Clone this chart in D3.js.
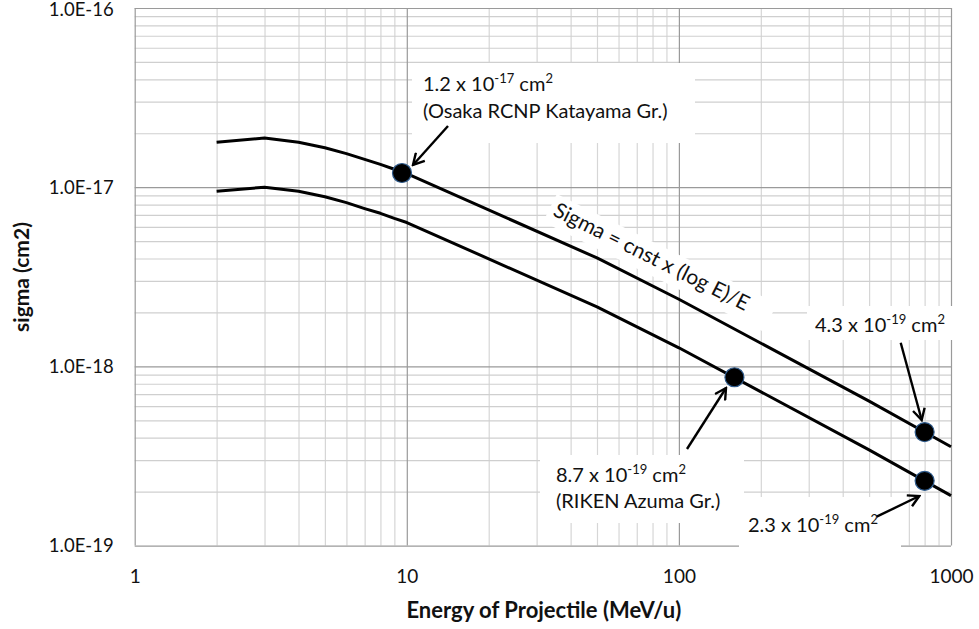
<!DOCTYPE html>
<html>
<head>
<meta charset="utf-8">
<script src="https://cdn.jsdelivr.net/npm/d3@7"></script>
<style>
  html, body { margin: 0; padding: 0; background: #fff; }
  svg { display: block; font-family: Lato, "Open Sans", sans-serif; }
</style>
</head>
<body>
<svg id="chart" width="979" height="629"></svg>
<script>
// Projectile energies (MeV/u) at which the two cross-section curves are sampled
const energies = [2, 3, 4, 5, 6, 7, 8, 9, 10, 50, 100, 500, 1000];
// Upper curve, sigma in cm^2
const sigmaUpper = [1.78e-17, 1.88e-17, 1.78e-17, 1.66e-17, 1.54e-17, 1.43e-17, 1.34e-17,
                    1.26e-17, 1.19e-17, 4.03e-18, 2.37e-18, 6.4e-19, 3.56e-19];
// Lower curve, sigma in cm^2
const sigmaLower = [9.5e-18, 1.0e-17, 9.5e-18, 8.85e-18, 8.2e-18, 7.6e-18, 7.15e-18,
                    6.7e-18, 6.35e-18, 2.15e-18, 1.27e-18, 3.42e-19, 1.9e-19];

// Measured points
const pointEnergy = [9.6, 160, 800, 800];
const pointSigma  = [1.2e-17, 8.7e-19, 4.3e-19, 2.3e-19];

// Axis ticks
const xTickValues = [1, 10, 100, 1000];
const xTickLabels = ["1", "10", "100", "1000"];
const yTickValues = [1e-19, 1e-18, 1e-17, 1e-16];
const yTickLabels = ["1.0E-19", "1.0E-18", "1.0E-17", "1.0E-16"];

(function () {
const svg = d3.select("#chart");
const plotL = 134.7, plotR = 951, plotT = 8, plotB = 545.6;

const x = d3.scaleLog().domain([1, 1000]).range([plotL, plotR]);
const y = d3.scaleLog().domain([1e-19, 1e-16]).range([plotB, plotT]);

// minor / major grid values
const xMinor = [], yMinor = [];
[1, 10, 100].forEach(d => { for (let k = 2; k <= 9; k++) xMinor.push(d * k); });
[1e-19, 1e-18, 1e-17].forEach(d => { for (let k = 2; k <= 9; k++) yMinor.push(d * k); });

const grid = svg.append("g");

grid.append("g")
  .attr("transform", `translate(0,${plotB})`)
  .call(d3.axisBottom(x).tickValues(xMinor).tickSize(-(plotB - plotT)).tickFormat(""))
  .call(g => g.select(".domain").remove())
  .call(g => g.selectAll("line").attr("stroke", "#d6d6d6").attr("stroke-width", 1.2));

grid.append("g")
  .attr("transform", `translate(${plotL},0)`)
  .call(d3.axisLeft(y).tickValues(yMinor).tickSize(-(plotR - plotL)).tickFormat(""))
  .call(g => g.select(".domain").remove())
  .call(g => g.selectAll("line").attr("stroke", "#cfcfcf").attr("stroke-width", 1.2));

grid.append("g")
  .attr("transform", `translate(0,${plotB})`)
  .call(d3.axisBottom(x).tickValues(xTickValues).tickSize(-(plotB - plotT)).tickFormat(""))
  .call(g => g.select(".domain").remove())
  .call(g => g.selectAll("line").attr("stroke", "#9a9a9a").attr("stroke-width", 1.2));

grid.append("g")
  .attr("transform", `translate(${plotL},0)`)
  .call(d3.axisLeft(y).tickValues(yTickValues).tickSize(-(plotR - plotL)).tickFormat(""))
  .call(g => g.select(".domain").remove())
  .call(g => g.selectAll("line").attr("stroke", "#9a9a9a").attr("stroke-width", 1.2));

// tick labels
const yAxis = svg.append("g")
  .attr("transform", `translate(${plotL},0)`)
  .call(d3.axisLeft(y).tickValues(yTickValues).tickSize(0).tickPadding(21)
        .tickFormat((d, i) => yTickLabels[i]));
yAxis.select(".domain").remove();
yAxis.selectAll("text").attr("font-size", 18.5).attr("fill", "#111")
  .attr("font-family", "Lato, sans-serif")
  .attr("dy", d => d === 1e-16 ? "0.42em" : "0.34em");

const xAxis = svg.append("g")
  .attr("transform", `translate(0,${plotB})`)
  .call(d3.axisBottom(x).tickValues(xTickValues).tickSize(0).tickPadding(24)
        .tickFormat((d, i) => xTickLabels[i]));
xAxis.select(".domain").remove();
xAxis.selectAll("text").attr("font-size", 19).attr("fill", "#111")
  .attr("font-family", "Lato, sans-serif");

// axis titles
svg.append("text")
  .attr("x", (plotL + plotR) / 2 + 1).attr("y", 618)
  .attr("text-anchor", "middle").attr("font-weight", "bold").attr("font-size", 22)
  .attr("fill", "#111")
  .text("Energy of Projectile (MeV/u)");

svg.append("text")
  .attr("transform", "translate(29,277) rotate(-90)")
  .attr("text-anchor", "middle").attr("font-weight", "bold").attr("font-size", 21)
  .attr("fill", "#111")
  .text("sigma (cm2)");

// curves
const line = d3.line().x(d => x(d[0])).y(d => y(d[1]));
[sigmaUpper, sigmaLower].forEach(series => {
  svg.append("path")
    .datum(energies.map((e, i) => [e, series[i]]))
    .attr("d", line)
    .attr("fill", "none").attr("stroke", "#000").attr("stroke-width", 3)
    .attr("stroke-linejoin", "round");
});

// arrow marker
const defs = svg.append("defs");
defs.append("marker")
  .attr("id", "arrow").attr("markerUnits", "userSpaceOnUse")
  .attr("viewBox", "0 0 14 14").attr("refX", 12).attr("refY", 7)
  .attr("markerWidth", 14).attr("markerHeight", 14).attr("orient", "auto")
  .append("path").attr("d", "M1,1 L12,7 L1,13")
  .attr("fill", "none").attr("stroke", "#000").attr("stroke-width", 2.4)
  .attr("stroke-linejoin", "miter");

// annotation boxes and text
const ann = svg.append("g").attr("font-family", "Lato, sans-serif").attr("font-size", 20)
  .attr("fill", "#111");

function supLabel(g, xPos, yPos, mant, exp) {
  const t = g.append("text").attr("x", xPos).attr("y", yPos);
  t.append("tspan").text(mant + " x 10");
  t.append("tspan").attr("font-size", 13).attr("dy", -8.5).text(exp);
  t.append("tspan").attr("dy", 8.5).text(" cm");
  t.append("tspan").attr("font-size", 13).attr("dy", -8.5).text("2");
  return t;
}

// Osaka label
ann.append("rect").attr("x", 412).attr("y", 63).attr("width", 283).attr("height", 80).attr("fill", "#fff");
supLabel(ann, 423, 91, "1.2", "-17");
ann.append("text").attr("x", 423).attr("y", 118).text("(Osaka RCNP Katayama Gr.)");

// 4.3 label
ann.append("rect").attr("x", 807).attr("y", 306).attr("width", 150).attr("height", 34).attr("fill", "#fff");
supLabel(ann, 815, 332, "4.3", "-19");

// RIKEN label
ann.append("rect").attr("x", 540).attr("y", 455).attr("width", 204).attr("height", 68).attr("fill", "#fff");
supLabel(ann, 556, 482, "8.7", "-19");
ann.append("text").attr("x", 556).attr("y", 508).text("(RIKEN Azuma Gr.)");

// 2.3 label
ann.append("rect").attr("x", 739).attr("y", 497).attr("width", 162).attr("height", 53).attr("fill", "#fff");
supLabel(ann, 748, 532, "2.3", "-19");

// formula label along the upper curve
const fg = ann.append("g").attr("transform", "translate(552,215) rotate(26.5)");
fg.append("rect").attr("x", -5).attr("y", -21).attr("width", 246).attr("height", 31).attr("fill", "#fff");
fg.append("text").attr("x", 0).attr("y", 0).attr("font-size", 21).text("Sigma = cnst x (log E)/E");

// arrows
const arrows = [
  [448, 126, 413, 165],
  [900.7, 342.7, 921.7, 420],
  [687, 449, 726, 388],
  [876.7, 516.7, 919.3, 496]
];
svg.append("g").selectAll("line").data(arrows).join("line")
  .attr("x1", d => d[0]).attr("y1", d => d[1]).attr("x2", d => d[2]).attr("y2", d => d[3])
  .attr("stroke", "#000").attr("stroke-width", 2.4).attr("marker-end", "url(#arrow)");

// measured points
svg.append("g").selectAll("circle").data(pointEnergy.map((e, i) => [e, pointSigma[i]])).join("circle")
  .attr("cx", d => x(d[0])).attr("cy", d => y(d[1])).attr("r", 9.5)
  .attr("fill", "#000").attr("stroke", "#2f5b8c").attr("stroke-width", 1.2);
})();
</script>
</body>
</html>
